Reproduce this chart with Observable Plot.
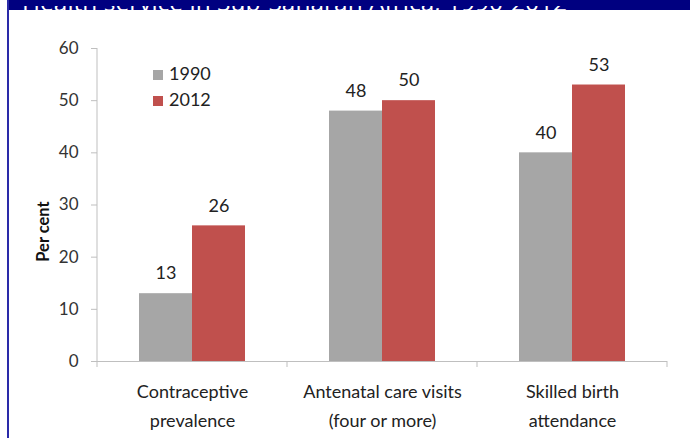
<!DOCTYPE html>
<html><head><meta charset="utf-8">
<script src="https://cdn.jsdelivr.net/npm/d3@7"></script>
<script src="https://cdn.jsdelivr.net/npm/@observablehq/plot@0.6"></script>
<style>
body{margin:0;background:#fff;font-family:Lato,sans-serif;}
#wrap{position:relative;width:690px;height:438px;overflow:hidden;background:#fff;}
#band{position:absolute;left:9px;top:0;width:681px;height:10px;background:#000080;overflow:hidden;}
#border{position:absolute;left:7px;top:0;width:2px;height:438px;background:#2a2aa8;}
#chart{position:absolute;left:0;top:0;}
#legend{position:absolute;left:153px;top:60px;font-size:18px;color:#222;line-height:26px;}
#legend .sw{display:inline-block;width:10px;height:10px;margin-right:6px;vertical-align:0px;}
</style></head>
<body>
<div id="wrap">
  <div id="chart"></div>
  <div id="band"><svg width="681" height="10"><text x="13" y="5" fill="#fff" font-size="24.5" font-family="Open Sans, sans-serif">Health service in Sub-Saharan Africa, 1990-2012</text></svg></div>
  <div id="border"></div>
  <div id="legend"></div>
</div>
<script>
const categories = ["Contraceptive\nprevalence", "Antenatal care visits\n(four or more)", "Skilled birth\nattendance"];
const years = ["1990", "2012"];
const values1990 = [13, 48, 40];
const values2012 = [26, 50, 53];
const yTicks = [0, 10, 20, 30, 40, 50, 60];
const yLabel = "Per cent";
const colors = ["#a6a6a6", "#c0504d"];

const data = categories.flatMap((c, i) => [
  {cat: c, year: years[0], value: values1990[i]},
  {cat: c, year: years[1], value: values2012[i]}
]);

const chart = Plot.plot({
  width: 690, height: 438,
  marginLeft: 97, marginRight: 23, marginTop: 48, marginBottom: 77,
  style: {fontFamily: "Lato, sans-serif", background: "transparent"},
  fx: {domain: categories, padding: 0, label: null},
  x: {domain: years, paddingInner: 0, paddingOuter: 0.78, axis: null},
  y: {domain: [0, 60], label: null},
  color: {domain: years, range: colors},
  marks: [
    Plot.ruleY([0], {stroke: "#bfbfbf"}),
    Plot.barY(data, {fx: "cat", x: "year", y: "value", fill: "year"}),
    Plot.text(data, {fx: "cat", x: "year", y: "value", text: d => String(d.value), dy: -20, fontSize: 18, fill: "#222"}),
    Plot.axisY({ticks: yTicks, tickSize: 6, tickPadding: 13, stroke: "#bfbfbf", fill: "#333", fontSize: 17, label: null}),
    Plot.axisFx({anchor: "bottom", tickSize: 0, tickPadding: 16, lineHeight: 1.6, fontSize: 18, fill: "#222", label: null})
  ]
});
document.getElementById("chart").appendChild(chart);

// axis line, category separators and y label, placed from Plot's own scales
const svg = chart.tagName.toLowerCase() === "svg" ? chart : chart.querySelector("svg");
const fx = chart.scale("fx"), y = chart.scale("y");
const y0 = y.apply(0), yTop = y.apply(d3.max(yTicks));
const edges = categories.map(c => fx.apply(c));
edges.push(edges[edges.length - 1] + fx.bandwidth);
const g = d3.select(svg).append("g").attr("stroke", "#bfbfbf");
g.append("line").attr("x1", edges[0]).attr("x2", edges[0]).attr("y1", yTop).attr("y2", y0);
edges.forEach(e => g.append("line").attr("x1", e).attr("x2", e).attr("y1", y0).attr("y2", y0 + 6));
d3.select(svg).append("text")
  .attr("transform", `translate(${edges[0] - 48},${(yTop + y0) / 2 + 27}) rotate(-90)`)
  .attr("text-anchor", "middle")
  .attr("font-family", "Lato, sans-serif")
  .attr("font-weight", "bold").attr("font-size", 16.5).attr("fill", "#111")
  .text(yLabel);

// legend
const leg = d3.select("#legend");
years.forEach((yr, i) => {
  const row = leg.append("div");
  row.append("span").attr("class", "sw").style("background", colors[i]);
  row.append("span").text(yr);
});
</script>
</body></html>
